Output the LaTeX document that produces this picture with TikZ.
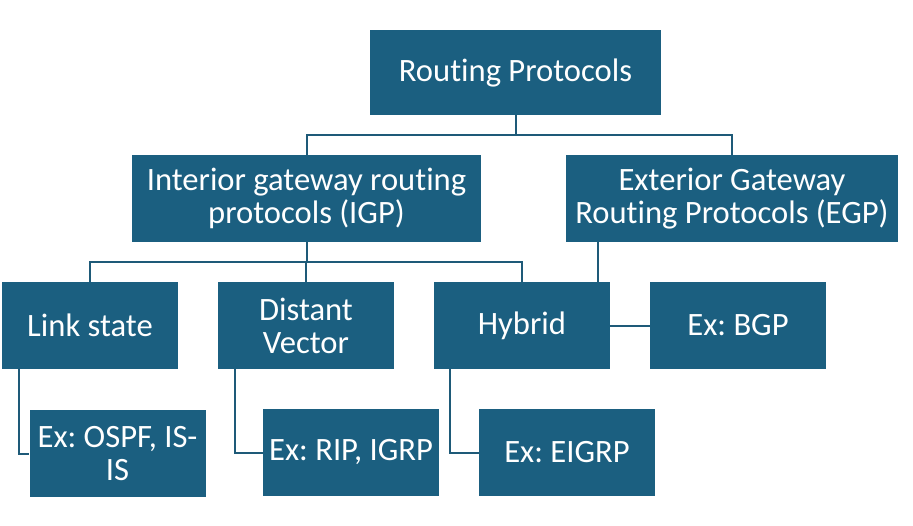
\documentclass[tikz,border=0pt]{standalone}
\usepackage{fontspec}
\setmainfont{Carlito}[Ligatures=NoCommon]
\definecolor{boxblue}{HTML}{1B5F80}
\definecolor{lineblue}{HTML}{1E5A78}
\frenchspacing

\begin{document}
\begin{tikzpicture}[x=1pt,y=-1pt,
        box/.style={fill=boxblue,text=white,inner sep=0pt,minimum height=87pt,
            align=center,font=\fontsize{32.6}{33}\selectfont},
        small/.style={box,minimum width=176pt},
        conn/.style={draw=lineblue,line width=2pt}]
        \useasboundingbox (0,0) rectangle (913,525);

        \node[box,minimum width=291pt,minimum height=85pt] (root) at (515.5,72.5) {Routing Protocols};
        \node[box,minimum width=349pt] (igp) at (306.5,198.5) {Interior gateway routing\\protocols (IGP)};
        \node[box,minimum width=332pt] (egp) at (732,198.5) {Exterior Gateway\\Routing Protocols (EGP)};

        \node[small] (link) at (90,325.5) {Link state};
        \node[small] (dist) at (306,325.5) {Distant\\Vector};
        \node[small] (hyb) at (522,325.5) {Hybrid};
        \node[small] (bgp) at (738,325.5) {Ex: BGP};

        \node[small] (ospf) at (117.5,453.5) {Ex: OSPF, IS-\\IS};
        \node[small] (rip) at (351,452.5) {Ex: RIP, IGRP};
        \node[small] (eigrp) at (567,452.5) {Ex: EIGRP};

        \coordinate (rootbus) at (515.5,135);
        \coordinate (igpbus) at (306.5,262);

        \draw[conn] (root.south) -- (rootbus);
        \draw[conn] (rootbus) -| (igp.north);
        \draw[conn] (rootbus) -| (egp.north);

        \draw[conn] (igp.south) -- (igpbus);
        \draw[conn] (igpbus) -| (link.north);
        \draw[conn] (igpbus) -| (dist.north);
        \draw[conn] (igpbus) -| (hyb.north);

        \draw[conn] ([xshift=-12pt]hyb.north east) -- ([xshift=-12pt]hyb.north east |- egp.south);
        \draw[conn] (hyb.east) -- (bgp.west);

        \draw[conn] ([xshift=17pt]link.south west) |- (ospf.west);
        \draw[conn] ([xshift=17pt]dist.south west) |- (rip.west);
        \draw[conn] ([xshift=16pt]hyb.south west) |- (eigrp.west);
\end{tikzpicture}
\end{document}
